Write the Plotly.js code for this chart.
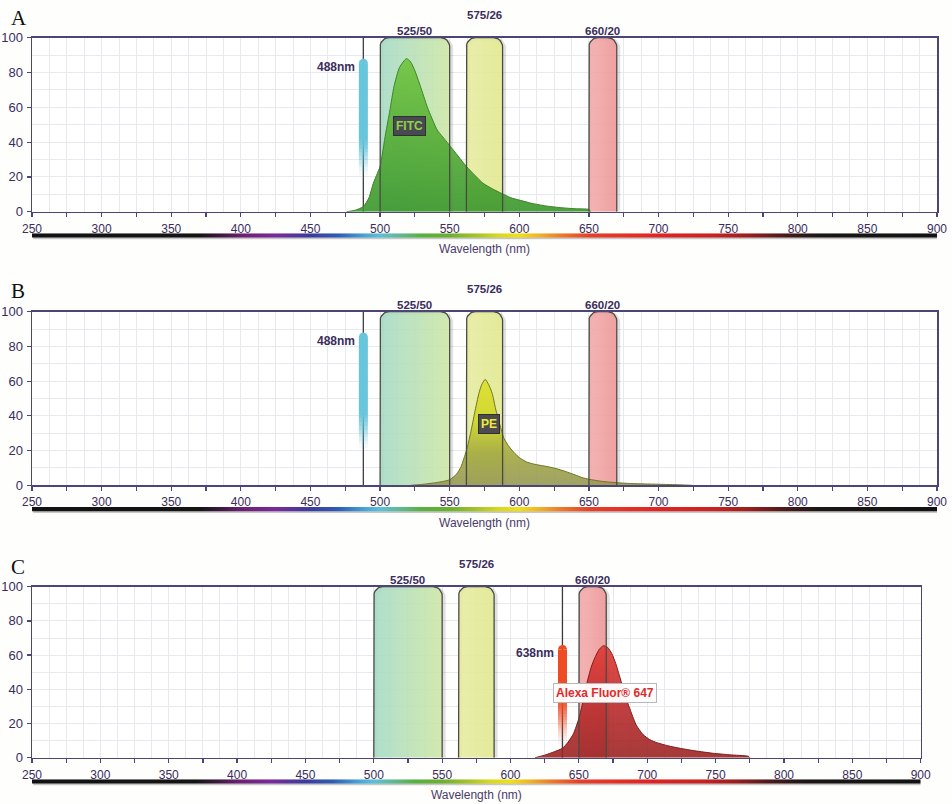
<!DOCTYPE html>
<html><head><meta charset="utf-8">
<script src="https://cdn.plot.ly/plotly-3.0.1.min.js"></script>
<style>html,body{margin:0;padding:0;background:#fefefc}</style>
</head><body><div id="chart" style="width:952px;height:804px"></div>
<script>
// ---------------- DATA ----------------
const panelLetters = ['A', 'B', 'C'];
const filterNames = ['525/50', '575/26', '660/20'];
const filterCenters = [525, 575, 660];
const filterWidths = [50, 26, 20];
const laserNames = ['488nm', '488nm', '638nm'];
const laserNm = [488, 488, 638];
const laserHeight = [88, 88, 66];

const fitcX = [476, 482, 488, 492, 495, 498, 500, 504, 507, 510, 514, 519, 522, 525, 529, 534, 541, 545, 549, 556, 562, 568, 574, 581, 587, 594, 600, 610, 620, 630, 640, 650, 651];
const fitcY = [0, 0.8, 3, 8, 16, 22, 26, 45, 58, 72, 83, 88, 86, 81, 72, 60, 47, 43, 39, 32, 26, 21, 16.3, 13, 10.6, 8, 6.7, 4.6, 3.2, 2.3, 1.7, 1.3, 0];
const peX = [522, 530, 540, 545, 550, 555, 558, 562, 565, 568, 571, 573, 575.5, 578, 580.5, 583, 586, 589, 592, 596, 600, 605, 610, 615, 620, 627, 633, 640, 645, 650, 660, 670, 680, 690, 700, 710, 724];
const peY = [0, 0.5, 1.5, 2.2, 3.2, 6.5, 10.5, 20, 30, 42, 53, 58, 61, 58, 53, 44, 35, 27, 23, 19, 16, 13.5, 12.3, 11.5, 10.8, 9.5, 8, 6, 4.5, 3.5, 2.2, 1.5, 1, 0.8, 0.6, 0.4, 0];
const afX = [618, 625, 632, 638, 642, 646, 650, 653, 656, 659, 662, 665, 668, 671, 674, 677, 680, 684, 688, 692, 697, 702, 707, 715, 724, 735, 748, 760, 774, 775];
const afY = [0, 1.5, 3.5, 5.5, 9, 14, 23, 33, 44, 53, 59, 63.5, 65.5, 64.5, 61, 55, 47, 36, 27, 19, 13.5, 10.5, 8.8, 7, 5.5, 4, 2.6, 1.7, 0.8, 0];
const dyeNames = ['FITC', 'PE', 'Alexa Fluor® 647'];
const dyeLabelNm = [521, 578.5, 669.3];
const dyeLabelVal = [49.5, 35.4, 37.7];

const xTickVals = [250, 275, 300, 325, 350, 375, 400, 425, 450, 475, 500, 525, 550, 575, 600, 625, 650, 675, 700, 725, 750, 775, 800, 825, 850, 875, 900];
const xTickText = ['250', '', '300', '', '350', '', '400', '', '450', '', '500', '', '550', '', '600', '', '650', '', '700', '', '750', '', '800', '', '850', '', '900'];
const yTickVals = [0, 20, 40, 60, 80, 100];
const yTickText = ['0', '20', '40', '60', '80', '100'];

const spectrumNm = [250, 370, 385, 400, 425, 450, 470, 490, 500, 515, 530, 550, 570, 585, 600, 615, 630, 650, 700, 740, 765, 790, 815, 900];
const spectrumColors = ['#121212', '#141414', '#3a1a3a', '#6a2070', '#7a2a9a', '#3a3c9c', '#2f5cb4', '#48a8d8', '#5cc0d8', '#60b890', '#58b040', '#6cb030', '#a8c428', '#d8d820', '#f0e018', '#f0b028', '#ec7a2a', '#e64028', '#e02424', '#c82222', '#9a1e1e', '#4a1a1a', '#1c1616', '#121212'];

const dyeXs = [fitcX, peX, afX];
const dyeYs = [fitcY, peY, afY];

// ---------------- GEOMETRY / STYLE ----------------
const W = 952, H = 804;
const X_MIN = 250, X_MAX = 900;
const geom = [
  {xl: 32, xr: 937,   yt: 37.7,  yb: 211.7, bt: 233.3, bb: 237.5, ly: 17.5},
  {xl: 32, xr: 937,   yt: 311.7, yb: 485.3, bt: 507.0, bb: 511.2, ly: 291},
  {xl: 32, xr: 920.7, yt: 586.7, yb: 757.7, bt: 779.3, bb: 783.5, ly: 567}
];
const axisColor = '#4d4478';
const textColor = '#3a2d5c';
const gridColor = '#e6e9ee';

const dyeStyle = [
  {line: '#3c8424', grad: [[0, 'rgba(58,150,44,0.9)'], [1, 'rgba(112,196,62,0.9)']], font: '#8fd24a', bg: 'rgba(72,70,80,0.96)', border: '#2e2e34'},
  {line: '#6e7424', grad: [[0, 'rgba(150,152,84,0.9)'], [0.3, 'rgba(162,168,62,0.9)'], [0.6, 'rgba(205,212,40,0.9)'], [1, 'rgba(222,224,40,0.9)']], font: '#ecec34', bg: 'rgba(72,70,80,0.96)', border: '#2e2e34'},
  {line: '#7e1c1c', grad: [[0, 'rgba(156,36,36,0.9)'], [0.45, 'rgba(186,42,42,0.9)'], [1, 'rgba(226,56,50,0.9)']], font: '#e02a2a', bg: 'rgba(255,255,255,0.96)', border: '#b8b8b8'}
];
const filterFill = [
  [[0, 'rgba(164,218,198,0.88)'], [1, 'rgba(204,230,164,0.88)']],
  [[0, 'rgba(230,236,160,0.9)'], [1, 'rgba(224,232,144,0.9)']],
  [[0, 'rgba(244,172,172,0.9)'], [1, 'rgba(236,150,150,0.9)']]
];
const laserRGB = ['104,198,220', '104,198,220', '238,76,36'];
const laserFade = [[0.2, 0.5], [0.2, 0.5], [0.06, 0.58]];

// ---------------- BUILD ----------------
const px2x = p => p / W;
const px2y = p => 1 - p / H;
const axKey = (c, n) => (n === 1 ? c + 'axis' : c + 'axis' + n);
const axRef = (c, n) => (n === 1 ? c : c + n);

function roundedTop(x0, x1, top, rx, ry, n, bottom) {
  const b = bottom || 0;
  const xs = [x0], ys = [b];
  for (let k = 0; k <= n; k++) {
    const t = Math.PI - (Math.PI / 2) * k / n;
    xs.push(x0 + rx + rx * Math.cos(t)); ys.push(top - ry + ry * Math.sin(t));
  }
  for (let k = 0; k <= n; k++) {
    const t = Math.PI / 2 - (Math.PI / 2) * k / n;
    xs.push(x1 - rx + rx * Math.cos(t)); ys.push(top - ry + ry * Math.sin(t));
  }
  xs.push(x1); ys.push(b);
  return {xs, ys};
}

const traces = [];
const layout = {
  width: W, height: H,
  margin: {l: 0, r: 0, t: 0, b: 0},
  paper_bgcolor: '#fefefc', plot_bgcolor: '#ffffff',
  showlegend: false,
  font: {family: 'Liberation Sans, Arial, sans-serif', color: textColor, size: 12},
  annotations: [],
  shapes: []
};

geom.forEach((g, i) => {
  const nMain = 2 * i + 1, nBar = 2 * i + 2;
  const xr = axRef('x', nMain), yr = axRef('y', nMain);
  const xb = axRef('x', nBar), yb = axRef('y', nBar);
  const pxPerNm = (g.xr - g.xl) / (X_MAX - X_MIN);
  const pxPerUnit = (g.yb - g.yt) / 100;

  layout[axKey('x', nMain)] = {
    domain: [px2x(g.xl), px2x(g.xr)], anchor: yr, range: [X_MIN, X_MAX],
    tickmode: 'array', tickvals: xTickVals, ticktext: xTickText,
    ticks: 'outside', ticklen: 4, tickwidth: 1.2, tickcolor: axisColor,
    showline: true, linecolor: axisColor, linewidth: 1.5, mirror: true,
    showgrid: true, gridcolor: gridColor, gridwidth: 1, zeroline: false,
    minor: {tickmode: 'linear', tick0: X_MIN, dtick: 12.5, showgrid: true, gridcolor: gridColor, ticks: ''},
    tickfont: {size: 12, color: textColor}, ticklabelstandoff: 1, fixedrange: true
  };
  layout[axKey('y', nMain)] = {
    domain: [px2y(g.yb), px2y(g.yt)], anchor: xr, range: [0, 100],
    tickmode: 'array', tickvals: yTickVals, ticktext: yTickText,
    ticks: 'outside', ticklen: 4, tickwidth: 1.2, tickcolor: axisColor,
    showline: true, linecolor: axisColor, linewidth: 1.5, mirror: true,
    showgrid: true, gridcolor: gridColor, gridwidth: 1, zeroline: false,
    minor: {tickmode: 'linear', tick0: 0, dtick: 10, showgrid: true, gridcolor: gridColor, ticks: ''},
    tickfont: {size: 13, color: textColor}, ticklabelstandoff: 1, fixedrange: true
  };
  const shadowLow = -2 / (g.bb - g.bt);
  layout[axKey('x', nBar)] = {
    domain: [px2x(g.xl), px2x(g.xr)], anchor: yb, range: [X_MIN, X_MAX],
    showline: false, showgrid: false, zeroline: false, showticklabels: false, ticks: '',
    title: {text: 'Wavelength (nm)', standoff: 5, font: {size: 12, color: '#4a3a6a'}}, fixedrange: true
  };
  layout[axKey('y', nBar)] = {
    domain: [px2y(g.bb + 2), px2y(g.bt)], anchor: xb, range: [shadowLow, 1],
    visible: false, fixedrange: true
  };

  // laser line (between grid and traces) and laser bar body (fading heatmap strip)
  const ln = laserNm[i];
  layout.shapes.push({type: 'line', layer: 'between', xref: xr, yref: yr, x0: ln, x1: ln, y0: 0, y1: 100,
    line: {color: '#3a3a3a', width: 1.2}});
  const hw = 4.5 / pxPerNm;
  const capH = 4.5 / pxPerUnit;
  const rgb = laserRGB[i], fd = laserFade[i];
  const bodyTop = laserHeight[i] - capH;
  const nRows = 40;
  const yEdges = [], zCol = [];
  for (let k = 0; k <= nRows; k++) yEdges.push(bodyTop * k / nRows);
  for (let k = 0; k < nRows; k++) {
    const f = ((k + 0.5) / nRows) * bodyTop / laserHeight[i];
    let a = (f - fd[0]) / (fd[1] - fd[0]);
    a = Math.max(0, Math.min(1, a));
    zCol.push([a * a * (3 - 2 * a)]);
  }
  traces.push({type: 'heatmap', x: [ln - hw, ln + hw], y: yEdges, z: zCol, xaxis: xr, yaxis: yr,
    zmin: 0, zmax: 1, showscale: false, zsmooth: false, hoverinfo: 'skip',
    colorscale: [[0, 'rgba(' + rgb + ',0)'], [1, 'rgba(' + rgb + ',1)']]});

  // filter shadows + fills
  filterCenters.forEach((c, j) => {
    const x0 = c - filterWidths[j] / 2, x1 = c + filterWidths[j] / 2;
    const sh = 2 / pxPerNm;
    const s = roundedTop(x0 + sh, x1 + sh, 100 - 1.5 / pxPerUnit, 9 / pxPerNm, 9 / pxPerUnit, 6);
    traces.push({x: s.xs, y: s.ys, xaxis: xr, yaxis: yr, mode: 'lines',
      line: {color: 'rgba(0,0,0,0.12)', width: 3}, hoverinfo: 'skip'});
    const p = roundedTop(x0, x1, 100, 9 / pxPerNm, 9 / pxPerUnit, 6);
    traces.push({x: p.xs, y: p.ys, xaxis: xr, yaxis: yr, mode: 'lines', fill: 'toself',
      line: {width: 0}, fillcolor: filterFill[j][0][1],
      fillgradient: {type: 'horizontal', colorscale: filterFill[j], start: x0, stop: x1},
      hoverinfo: 'skip'});
  });
  // dye curve
  const st = dyeStyle[i];
  const peak = Math.max(...dyeYs[i]);
  traces.push({x: dyeXs[i], y: dyeYs[i], xaxis: xr, yaxis: yr, mode: 'lines', fill: 'tozeroy',
    line: {color: st.line, width: 1, shape: 'spline', smoothing: 0.6},
    fillcolor: st.grad[0][1],
    fillgradient: {type: 'vertical', colorscale: st.grad, start: 0, stop: peak},
    name: dyeNames[i]});
  // filter outlines + labels
  filterCenters.forEach((c, j) => {
    const x0 = c - filterWidths[j] / 2, x1 = c + filterWidths[j] / 2;
    const p = roundedTop(x0, x1, 100, 9 / pxPerNm, 9 / pxPerUnit, 6);
    traces.push({x: p.xs, y: p.ys, xaxis: xr, yaxis: yr, mode: 'lines',
      line: {color: '#4a4a44', width: 1.3}, hoverinfo: 'skip'});
    layout.annotations.push({xref: xr, yref: yr, x: c, y: 100, yanchor: 'middle',
      yshift: j === 1 ? 23 : 7, showarrow: false, text: filterNames[j],
      font: {size: 11.5, color: textColor, weight: 'bold'}});
  });
  // laser bar rounded cap
  const cap = roundedTop(ln - hw, ln + hw, laserHeight[i], hw, capH, 8, bodyTop);
  traces.push({x: cap.xs, y: cap.ys, xaxis: xr, yaxis: yr, mode: 'lines', fill: 'toself',
    line: {width: 0}, fillcolor: 'rgba(' + rgb + ',1)', hoverinfo: 'skip'});
  layout.annotations.push({xref: xr, yref: yr, x: ln, y: laserHeight[i] - 5, xanchor: 'right',
    xshift: -6, showarrow: false, text: laserNames[i],
    font: {size: 12, color: textColor, weight: 'bold'}});
  // dye label
  layout.annotations.push({xref: xr, yref: yr, x: dyeLabelNm[i], y: dyeLabelVal[i], showarrow: false,
    text: dyeNames[i], bgcolor: st.bg, bordercolor: st.border, borderwidth: 1, borderpad: 2,
    font: {size: 12, color: st.font, weight: 'bold'}});
  // panel letter
  layout.annotations.push({xref: 'paper', yref: 'paper', x: px2x(9), y: px2y(g.ly),
    xanchor: 'left', yanchor: 'middle', showarrow: false, text: panelLetters[i],
    font: {family: 'Liberation Serif, Times New Roman, serif', size: 21, color: '#111'}});

  // spectrum bar with shadow
  const shift = 1.2 / pxPerNm;
  traces.push({x: [X_MIN + shift, X_MAX, X_MAX, X_MIN + shift, X_MIN + shift], y: [shadowLow, shadowLow, 0.6, 0.6, shadowLow],
    xaxis: xb, yaxis: yb, mode: 'lines', fill: 'toself', line: {width: 0},
    fillcolor: 'rgba(0,0,0,0.22)', hoverinfo: 'skip'});
  traces.push({x: [X_MIN, X_MAX, X_MAX, X_MIN, X_MIN], y: [0, 0, 1, 1, 0],
    xaxis: xb, yaxis: yb, mode: 'lines', fill: 'toself', line: {width: 0},
    fillcolor: '#121212',
    fillgradient: {type: 'horizontal', start: X_MIN, stop: X_MAX,
      colorscale: spectrumNm.map((w, k) => [(w - X_MIN) / (X_MAX - X_MIN), spectrumColors[k]])},
    hoverinfo: 'skip'});
});

Plotly.newPlot('chart', traces, layout, {displayModeBar: false, staticPlot: true});
</script></body></html>
